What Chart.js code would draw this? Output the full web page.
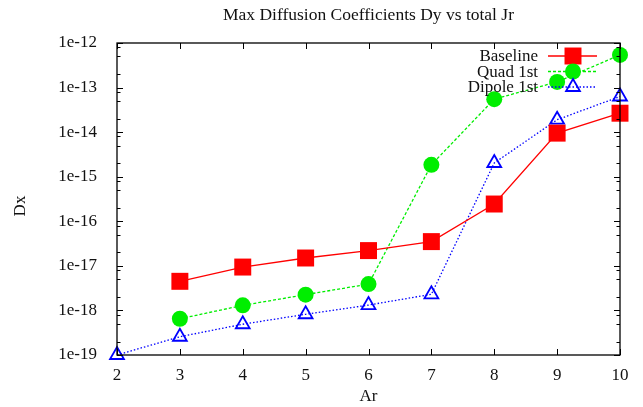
<!DOCTYPE html>
<html>
<head>
<meta charset="utf-8">
<script src="https://cdn.jsdelivr.net/npm/chart.js@4/dist/chart.umd.min.js"></script>
<style>
  html, body { margin: 0; padding: 0; background: #fff; }
  #wrap { width: 643px; height: 407px; position: relative; }
</style>
</head>
<body>
<div id="wrap"><canvas id="c" width="643" height="407"></canvas></div>
<script>
// ---- data ----
const categories = [2, 3, 4, 5, 6, 7, 8, 9, 10];
const baseline = [null, 4.5e-18, 9.4e-18, 1.5e-17, 2.2e-17, 3.5e-17, 2.44e-16, 9.5e-15, 2.66e-14];
const quad1st  = [null, 6.5e-19, 1.3e-18, 2.26e-18, 3.9e-18, 1.85e-15, 5.5e-14, 1.34e-13, 5.4e-13];
const dipole1st = [1.0e-19, 2.57e-19, 4.9e-19, 8.2e-19, 1.32e-18, 2.3e-18, 2.03e-15, 1.9e-14, 6.3e-14];
const seriesNames = ['Baseline', 'Quad 1st', 'Dipole 1st'];
const yTickValues = [1e-19, 1e-18, 1e-17, 1e-16, 1e-15, 1e-14, 1e-13, 1e-12];
const yTickLabels = ['1e-19', '1e-18', '1e-17', '1e-16', '1e-15', '1e-14', '1e-13', '1e-12'];
const xTickLabels = ['2', '3', '4', '5', '6', '7', '8', '9', '10'];
const titleText = 'Max Diffusion Coefficients Dy vs total Jr';
const xTitle = 'Ar';
const yTitle = 'Dx';

const FONT = '"Liberation Serif", "Times New Roman", serif';

function pts(arr) {
  return categories.map((c, i) => ({ x: c, y: arr[i] })).filter(p => p.y !== null);
}

const datasets = [
  { label: seriesNames[0], data: pts(baseline), borderColor: '#ff0000', backgroundColor: '#ff0000',
    borderWidth: 1.3, pointStyle: 'rect', pointRadius: 12, pointBorderWidth: 0, clip: false },
  { label: seriesNames[1], data: pts(quad1st), borderColor: '#00ee00', backgroundColor: '#00ee00',
    borderWidth: 1.3, borderDash: [3, 2], pointStyle: 'circle', pointRadius: 8, pointBorderWidth: 0,
    pointBackgroundColor: '#00ee00', clip: false },
  { label: seriesNames[2], data: pts(dipole1st), borderColor: '#0000ff', backgroundColor: 'rgba(255,255,255,0)',
    borderWidth: 1.3, borderDash: [1.5, 2], pointStyle: 'triangle', pointRadius: 8, pointBorderWidth: 1.8,
    pointBorderColor: '#0000ff', clip: false }
];

const decorPlugin = {
  id: 'decor',
  afterDraw(chart) {
    const ctx = chart.ctx;
    const a = chart.chartArea;
    const xs = chart.scales.x, ys = chart.scales.y;
    ctx.save();
    // frame
    ctx.strokeStyle = '#000';
    ctx.lineWidth = 1.3;
    ctx.strokeRect(a.left, a.top, a.right - a.left, a.bottom - a.top);
    // x ticks (inward, bottom and top)
    ctx.lineWidth = 1;
    ctx.beginPath();
    categories.forEach(c => {
      const px = Math.round(xs.getPixelForValue(c)) + 0.5;
      ctx.moveTo(px, a.bottom); ctx.lineTo(px, a.bottom - 6);
      ctx.moveTo(px, a.top); ctx.lineTo(px, a.top + 6);
    });
    // y ticks major + minor
    yTickValues.forEach((v, i) => {
      const py = Math.round(ys.getPixelForValue(v)) + 0.5;
      ctx.moveTo(a.left, py); ctx.lineTo(a.left + 6, py);
      ctx.moveTo(a.right, py); ctx.lineTo(a.right - 6, py);
      if (i < yTickValues.length - 1) {
        [2, 5, 8].forEach(m => {
          const my = Math.round(ys.getPixelForValue(v * m)) + 0.5;
          ctx.moveTo(a.left, my); ctx.lineTo(a.left + 3.5, my);
          ctx.moveTo(a.right, my); ctx.lineTo(a.right - 3.5, my);
        });
      }
    });
    ctx.stroke();

    // titles
    ctx.fillStyle = '#111';
    ctx.textAlign = 'center';
    ctx.textBaseline = 'middle';
    ctx.font = '17.5px ' + FONT;
    ctx.fillText(titleText, (a.left + a.right) / 2, 15);
    ctx.font = '17px ' + FONT;
    ctx.fillText(xTitle, (a.left + a.right) / 2, 397);
    ctx.save();
    ctx.translate(21, (a.top + a.bottom) / 2 + 7);
    ctx.rotate(-Math.PI / 2);
    ctx.fillText(yTitle, 0, 0);
    ctx.restore();

    // legend (text right-aligned, then sample line with marker)
    const textRight = 538, lineL = 548, lineR = 597, mid = 573;
    const rows = [56, 71.5, 87];
    ctx.font = '17px ' + FONT;
    chart.data.datasets.forEach((ds, i) => {
      const y = rows[i];
      ctx.textAlign = 'right';
      ctx.fillStyle = '#111';
      ctx.fillText(ds.label, textRight, y + 1);
      ctx.strokeStyle = ds.borderColor;
      ctx.lineWidth = ds.borderWidth;
      ctx.setLineDash(ds.borderDash || []);
      ctx.beginPath();
      ctx.moveTo(lineL, y); ctx.lineTo(lineR, y);
      ctx.stroke();
      ctx.setLineDash([]);
      ctx.fillStyle = ds.pointBackgroundColor || ds.backgroundColor;
      ctx.strokeStyle = ds.pointBorderColor || ds.borderColor;
      ctx.lineWidth = ds.pointBorderWidth;
      Chart.helpers.drawPoint(ctx, { pointStyle: ds.pointStyle, radius: ds.pointRadius, rotation: 0,
        borderWidth: ds.pointBorderWidth }, mid, y);
    });
    ctx.restore();
  }
};

new Chart(document.getElementById('c'), {
  type: 'line',
  data: { datasets },
  options: {
    responsive: false,
    animation: false,
    layout: { padding: { left: 0, top: 43, right: 23, bottom: 0 } },
    plugins: { legend: { display: false }, title: { display: false }, tooltip: { enabled: false } },
    scales: {
      x: {
        type: 'linear', min: 2, max: 10,
        afterFit(s) { s.height = 407 - 355; },
        afterBuildTicks(s) { s.ticks = categories.map(v => ({ value: v })); },
        grid: { display: false },
        border: { display: false },
        ticks: { padding: 2, color: '#111', font: { family: FONT, size: 17 },
          callback: (v) => xTickLabels[categories.indexOf(v)] }
      },
      y: {
        type: 'logarithmic', min: 1e-19, max: 1e-12,
        afterFit(s) { s.width = 117; },
        afterBuildTicks(s) { s.ticks = yTickValues.map(v => ({ value: v, major: true })); },
        grid: { display: false },
        border: { display: false },
        ticks: { padding: 12, color: '#111', font: { family: FONT, size: 17 },
          callback: (v) => { const i = yTickValues.findIndex(t => Math.abs(Math.log10(t) - Math.log10(v)) < 1e-6); return i >= 0 ? yTickLabels[i] : ''; } }
      }
    }
  },
  plugins: [decorPlugin]
});
</script>
</body>
</html>
